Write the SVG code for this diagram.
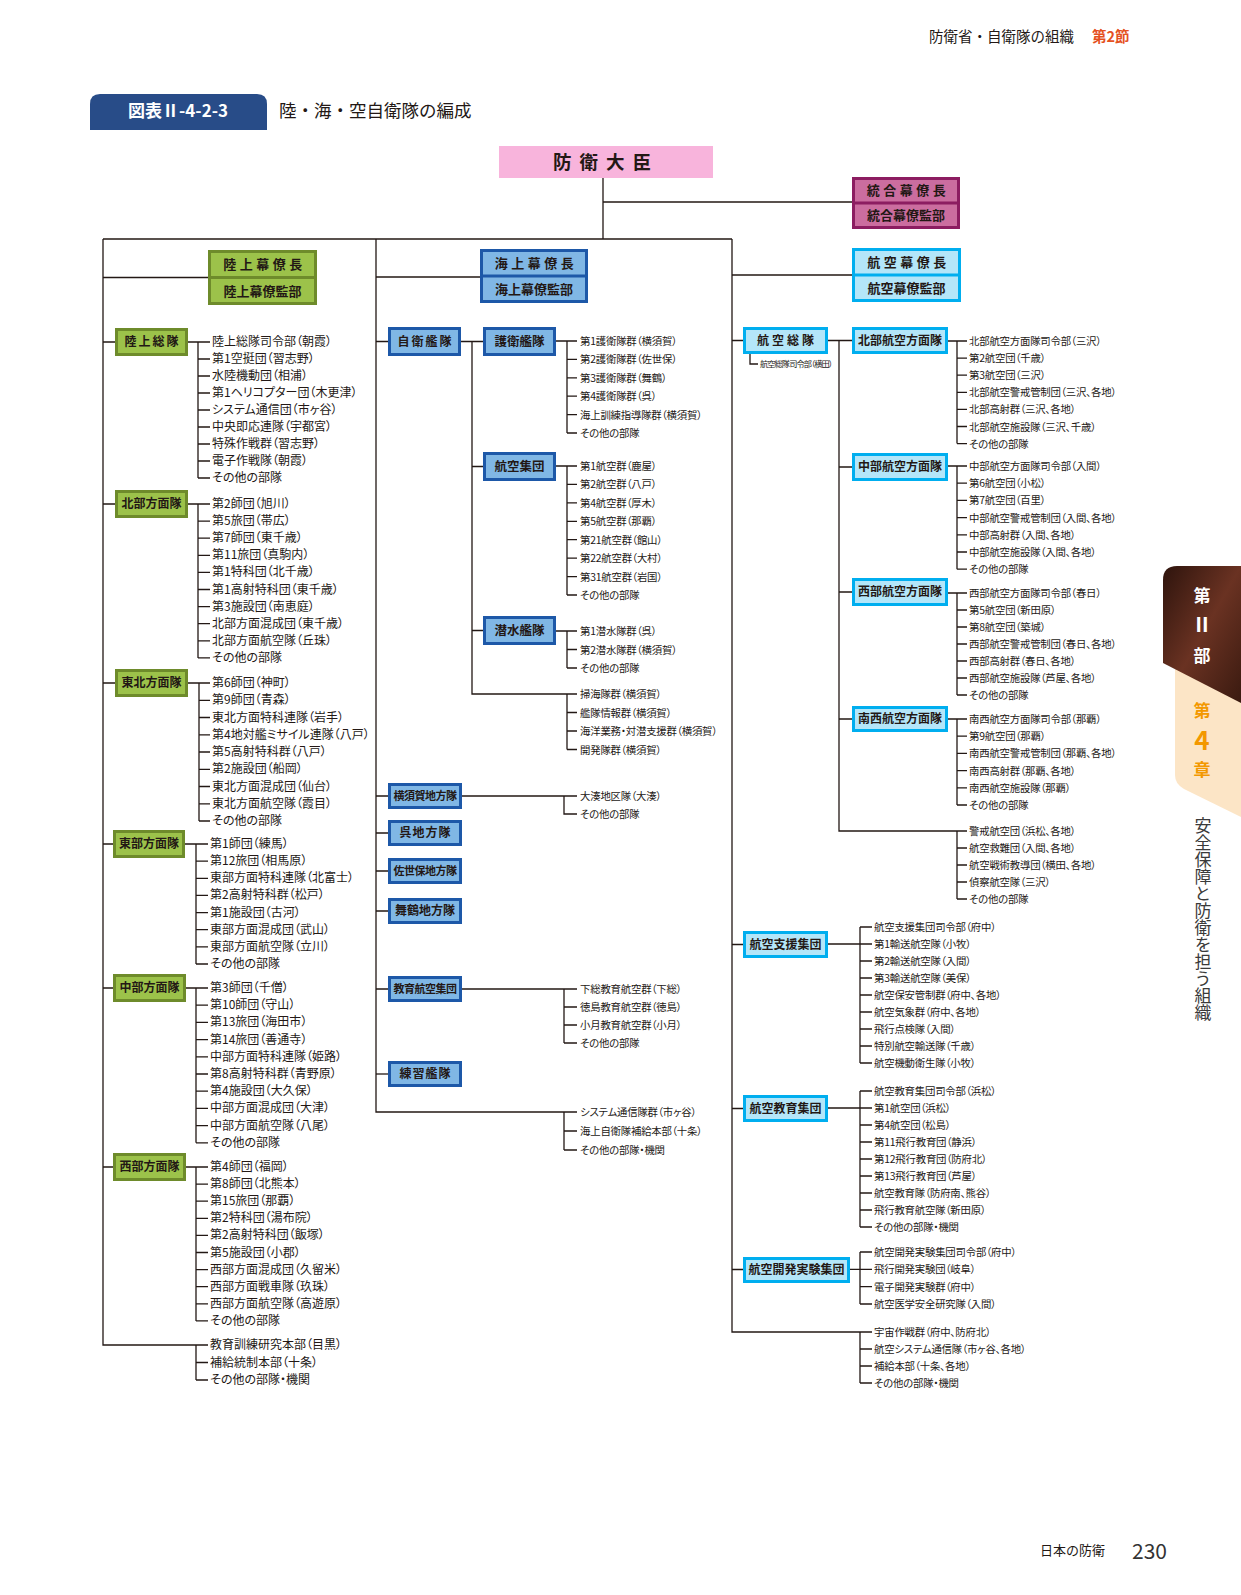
<svg xmlns="http://www.w3.org/2000/svg" width="1241" height="1595" viewBox="0 0 1241 1595">
<defs>
<style>
.ln{stroke:#231815;stroke-width:1.3;fill:none}
.f{font-family:"Noto Sans CJK JP","Noto Sans CJK SC",sans-serif;fill:#231815}
.tg{font-family:"Noto Sans CJK JP","Noto Sans CJK SC",sans-serif;fill:#231815;font-size:12px;letter-spacing:0px;font-feature-settings:"palt"}
.ts{font-family:"Noto Sans CJK JP","Noto Sans CJK SC",sans-serif;fill:#231815;font-size:10.4px;letter-spacing:-0.2px;font-feature-settings:"palt"}
.bt{font-family:"Noto Sans CJK JP","Noto Sans CJK SC",sans-serif;fill:#231815;font-size:12px;font-weight:bold;text-anchor:middle}
.b13{font-size:13px}
.b125{font-size:12.5px}
.bg{fill:#9CC24A;stroke:#6E8B2B;stroke-width:3}
.bm{fill:#80B7E5;stroke:#1D58A8;stroke-width:3}
.ba{fill:#B4E6F9;stroke:#00AEEF;stroke-width:3}
.bj{fill:#CB6D9F;stroke:#8C1D61;stroke-width:3}
.sp{letter-spacing:2px}
.s6{font-size:11px;letter-spacing:-0.5px}
.tiny{font-size:8.2px;letter-spacing:-0.9px}
</style>
<linearGradient id="dk" x1="0" y1="0" x2="1" y2="1">
<stop offset="0" stop-color="#2E140D"/>
<stop offset="0.5" stop-color="#6A3222"/>
<stop offset="1" stop-color="#3A1A10"/>
</linearGradient>
</defs>
<rect width="1241" height="1595" fill="#ffffff"/>

<g id="header">
<text class="f" x="929" y="42" font-size="14.5">防衛省・自衛隊の組織</text>
<text class="f" x="1092" y="42" font-size="14.5" font-weight="bold" style="fill:#E5511E">第2節</text>
</g>

<g id="title">
<path d="M90,130V104Q90,94 100,94H257Q267,94 267,104V130Z" fill="#284C88"/>
<text class="f" x="178" y="117" font-size="17" font-weight="bold" text-anchor="middle" style="fill:#ffffff">図表Ⅱ-4-2-3</text>
<text class="f" x="279" y="117" font-size="17.5">陸・海・空自衛隊の編成</text>
</g>

<g id="side-tab">
<path d="M1175,655V775Q1175,784 1184,789L1241,817V680Z" fill="#FCE5C6"/>
<path d="M1241,566H1177Q1163,566 1163,580V663L1241,703Z" fill="url(#dk)"/>
<text class="f" x="1202" y="602" font-size="17" font-weight="bold" text-anchor="middle" style="fill:#ffffff">第</text>
<text class="f" x="1202" y="632" font-size="20" font-weight="bold" text-anchor="middle" style="fill:#ffffff">Ⅱ</text>
<text class="f" x="1202" y="662" font-size="17" font-weight="bold" text-anchor="middle" style="fill:#ffffff">部</text>
<text class="f" x="1202" y="717" font-size="17" font-weight="bold" text-anchor="middle" style="fill:#F39800">第</text>
<text class="f" x="1202" y="750" font-size="26" font-weight="bold" text-anchor="middle" style="fill:#F39800">4</text>
<text class="f" x="1202" y="776" font-size="17" font-weight="bold" text-anchor="middle" style="fill:#F39800">章</text>
<text class="f" x="1203" y="817" font-size="17" style="writing-mode:vertical-rl;fill:#3a3a3a">安全保障と防衛を担う組織</text>
</g>

<g id="footer">
<text class="f" x="1040" y="1555" font-size="13">日本の防衛</text>
<text class="f" x="1132" y="1559" font-size="21" style="fill:#333">230</text>
</g>

<g id="connectors">
<path class="ln" d="M103,239V1345H208 M103,239H732 M603,178V239 M603,202H852 M103,277.5H208 M376,277H480 M732,275H852"/>
<path class="ln" d="M103,342H116 M187,342H210 M198,342V478 M198,359h12 M198,376h12 M198,393h12 M198,410h12 M198,427h12 M198,444h12 M198,461h12 M198,478h12"/>
<path class="ln" d="M103,504H116 M187,504H210 M198,504V657.9 M198,521.1h12 M198,538.2h12 M198,555.3h12 M198,572.4h12 M198,589.5h12 M198,606.6h12 M198,623.7h12 M198,640.8h12 M198,657.9h12"/>
<path class="ln" d="M103,683H116 M187,683H210 M199,683V821 M199,700.3h11 M199,717.5h11 M199,734.8h11 M199,752h11 M199,769.3h11 M199,786.5h11 M199,803.8h11 M199,821h11"/>
<path class="ln" d="M103,844H114 M184,844H208 M196,844V964 M196,861.1h12 M196,878.3h12 M196,895.4h12 M196,912.6h12 M196,929.7h12 M196,946.9h12 M196,964h12"/>
<path class="ln" d="M103,988H114 M185,988H208 M196,988V1142.8 M196,1005.2h12 M196,1022.4h12 M196,1039.6h12 M196,1056.8h12 M196,1074h12 M196,1091.2h12 M196,1108.4h12 M196,1125.6h12 M196,1142.8h12"/>
<path class="ln" d="M103,1167H114 M185,1167H208 M196,1167V1320.9 M196,1184.1h12 M196,1201.2h12 M196,1218.3h12 M196,1235.4h12 M196,1252.5h12 M196,1269.6h12 M196,1286.7h12 M196,1303.8h12 M196,1320.9h12"/>
<path class="ln" d="M196,1345V1380 M196,1362.5h12 M196,1380h12"/>
<path class="ln" d="M376,239V1112H577 M564,1112V1150 M564,1131h13 M564,1150h13"/>
<path class="ln" d="M376,341.5H389 M460,341.5H484 M472,341.5V694H577 M567,694V749.5 M567,712.5h10 M567,731h10 M567,749.5h10"/>
<path class="ln" d="M555,341H577 M567,341V433 M567,359.4h10 M567,377.8h10 M567,396.2h10 M567,414.6h10 M567,433h10"/>
<path class="ln" d="M472,466.5H484 M555,466H577 M567,466V595 M567,484.4h10 M567,502.9h10 M567,521.3h10 M567,539.7h10 M567,558.1h10 M567,576.6h10 M567,595h10"/>
<path class="ln" d="M472,630.5H484 M555,631H577 M567,631V668 M567,649.5h10 M567,668h10"/>
<path class="ln" d="M376,796H389 M461,796H577 M564,796V814H577"/>
<path class="ln" d="M376,833H389 M376,871H389 M376,911H389"/>
<path class="ln" d="M376,989H389 M461,989H577 M564,989V1043 M564,1007h13 M564,1025h13 M564,1043h13"/>
<path class="ln" d="M376,1074H389"/>
<path class="ln" d="M732,239V1332H872 M860,1332V1383 M860,1349h12 M860,1366h12 M860,1383h12"/>
<path class="ln" d="M732,340.5H744 M827,340.5H853 M839,340.5V831H967 M957,831V899 M957,848h10 M957,865h10 M957,882h10 M957,899h10"/>
<path class="ln" d="M750,354V364H758"/>
<path class="ln" d="M947,341H967 M957,341V443.6 M957,358.1h10 M957,375.2h10 M957,392.3h10 M957,409.4h10 M957,426.5h10 M957,443.6h10"/>
<path class="ln" d="M839,467H853 M947,466H967 M957,466V569.2 M957,483.2h10 M957,500.4h10 M957,517.6h10 M957,534.8h10 M957,552h10 M957,569.2h10"/>
<path class="ln" d="M839,592H853 M947,593H967 M957,593V695 M957,610h10 M957,627h10 M957,644h10 M957,661h10 M957,678h10 M957,695h10"/>
<path class="ln" d="M839,719H853 M947,719H967 M957,719V805 M957,736.2h10 M957,753.4h10 M957,770.6h10 M957,787.8h10 M957,805h10"/>
<path class="ln" d="M732,944.5H744 M827,944H872 M860,927V1063 M860,927h12 M860,961h12 M860,978h12 M860,995h12 M860,1012h12 M860,1029h12 M860,1046h12 M860,1063h12"/>
<path class="ln" d="M732,1108.5H744 M827,1108H872 M860,1091V1227 M860,1091h12 M860,1125h12 M860,1142h12 M860,1159h12 M860,1176h12 M860,1193h12 M860,1210h12 M860,1227h12"/>
<path class="ln" d="M732,1269.5H744 M849,1269.3H872 M860,1252V1304 M860,1252h12 M860,1286.7h12 M860,1304h12"/>
</g>

<g id="minister">
<rect x="499" y="146" width="214" height="32" fill="#F8B4DC"/>
<text class="f" x="606" y="169" font-size="18.5" font-weight="bold" text-anchor="middle" letter-spacing="8">防衛大臣</text>
</g>
<g id="joint-staff">
<rect class="bj" x="853.5" y="178.5" width="105" height="49"/>
<line x1="853.5" y1="203" x2="958.5" y2="203" stroke="#8C1D61" stroke-width="3"/>
<text class="bt b13" x="908" y="195" letter-spacing="3.5">統合幕僚長</text>
<text class="bt b13" x="906" y="220">統合幕僚監部</text>
</g>
<g id="gsdf-staff">
<rect class="bg" x="209.5" y="251.5" width="106" height="52"/>
<line x1="209.5" y1="277.5" x2="315.5" y2="277.5" stroke="#6E8B2B" stroke-width="3"/>
<text class="bt b13" x="264.5" y="269" letter-spacing="3.5">陸上幕僚長</text>
<text class="bt b13" x="262.5" y="295.5">陸上幕僚監部</text>
</g>
<g id="msdf-staff">
<rect class="bm" x="481.5" y="250.5" width="105" height="51"/>
<line x1="481.5" y1="276" x2="586.5" y2="276" stroke="#1D58A8" stroke-width="3"/>
<text class="bt b13" x="536" y="268" letter-spacing="3.5">海上幕僚長</text>
<text class="bt b13" x="534" y="294">海上幕僚監部</text>
</g>
<g id="asdf-staff">
<rect class="ba" x="853.5" y="249.5" width="106" height="51"/>
<line x1="853.5" y1="275" x2="959.5" y2="275" stroke="#00AEEF" stroke-width="3"/>
<text class="bt b13" x="908.5" y="267" letter-spacing="3.5">航空幕僚長</text>
<text class="bt b13" x="906.5" y="293">航空幕僚監部</text>
</g>

<g id="g-sotai">
<rect class="bg" x="116.5" y="329.5" width="70" height="25"/>
<text class="bt sp" x="152.5" y="346.3">陸上総隊</text>
</g>
<g id="g-sotai-units">
<text class="tg" x="212" y="346">陸上総隊司令部（朝霞）</text>
<text class="tg" x="212" y="363">第1空挺団（習志野）</text>
<text class="tg" x="212" y="380">水陸機動団（相浦）</text>
<text class="tg" x="212" y="397">第1ヘリコプター団（木更津）</text>
<text class="tg" x="212" y="414">システム通信団（市ヶ谷）</text>
<text class="tg" x="212" y="431">中央即応連隊（宇都宮）</text>
<text class="tg" x="212" y="448">特殊作戦群（習志野）</text>
<text class="tg" x="212" y="465">電子作戦隊（朝霞）</text>
<text class="tg" x="212" y="482">その他の部隊</text>
</g>
<g id="g-north">
<rect class="bg" x="116.5" y="491.5" width="70" height="25"/>
<text class="bt" x="151.5" y="508.3">北部方面隊</text>
</g>
<g id="g-north-units">
<text class="tg" x="212" y="508">第2師団（旭川）</text>
<text class="tg" x="212" y="525.1">第5旅団（帯広）</text>
<text class="tg" x="212" y="542.2">第7師団（東千歳）</text>
<text class="tg" x="212" y="559.3">第11旅団（真駒内）</text>
<text class="tg" x="212" y="576.4">第1特科団（北千歳）</text>
<text class="tg" x="212" y="593.5">第1高射特科団（東千歳）</text>
<text class="tg" x="212" y="610.6">第3施設団（南恵庭）</text>
<text class="tg" x="212" y="627.7">北部方面混成団（東千歳）</text>
<text class="tg" x="212" y="644.8">北部方面航空隊（丘珠）</text>
<text class="tg" x="212" y="661.9">その他の部隊</text>
</g>
<g id="g-northeast">
<rect class="bg" x="116.5" y="670.5" width="70" height="25"/>
<text class="bt" x="151.5" y="687.3">東北方面隊</text>
</g>
<g id="g-northeast-units">
<text class="tg" x="212" y="687">第6師団（神町）</text>
<text class="tg" x="212" y="704.3">第9師団（青森）</text>
<text class="tg" x="212" y="721.5">東北方面特科連隊（岩手）</text>
<text class="tg" x="212" y="738.8">第4地対艦ミサイル連隊（八戸）</text>
<text class="tg" x="212" y="756">第5高射特科群（八戸）</text>
<text class="tg" x="212" y="773.3">第2施設団（船岡）</text>
<text class="tg" x="212" y="790.5">東北方面混成団（仙台）</text>
<text class="tg" x="212" y="807.8">東北方面航空隊（霞目）</text>
<text class="tg" x="212" y="825">その他の部隊</text>
</g>
<g id="g-east">
<rect class="bg" x="114.5" y="831.5" width="69" height="25"/>
<text class="bt" x="149" y="848.3">東部方面隊</text>
</g>
<g id="g-east-units">
<text class="tg" x="210" y="848">第1師団（練馬）</text>
<text class="tg" x="210" y="865.1">第12旅団（相馬原）</text>
<text class="tg" x="210" y="882.3">東部方面特科連隊（北富士）</text>
<text class="tg" x="210" y="899.4">第2高射特科群（松戸）</text>
<text class="tg" x="210" y="916.6">第1施設団（古河）</text>
<text class="tg" x="210" y="933.7">東部方面混成団（武山）</text>
<text class="tg" x="210" y="950.9">東部方面航空隊（立川）</text>
<text class="tg" x="210" y="968">その他の部隊</text>
</g>
<g id="g-middle">
<rect class="bg" x="114.5" y="975.5" width="70" height="25"/>
<text class="bt" x="149.5" y="992.3">中部方面隊</text>
</g>
<g id="g-middle-units">
<text class="tg" x="210" y="992">第3師団（千僧）</text>
<text class="tg" x="210" y="1009.2">第10師団（守山）</text>
<text class="tg" x="210" y="1026.4">第13旅団（海田市）</text>
<text class="tg" x="210" y="1043.6">第14旅団（善通寺）</text>
<text class="tg" x="210" y="1060.8">中部方面特科連隊（姫路）</text>
<text class="tg" x="210" y="1078">第8高射特科群（青野原）</text>
<text class="tg" x="210" y="1095.2">第4施設団（大久保）</text>
<text class="tg" x="210" y="1112.4">中部方面混成団（大津）</text>
<text class="tg" x="210" y="1129.6">中部方面航空隊（八尾）</text>
<text class="tg" x="210" y="1146.8">その他の部隊</text>
</g>
<g id="g-west">
<rect class="bg" x="114.5" y="1154.5" width="70" height="25"/>
<text class="bt" x="149.5" y="1171.3">西部方面隊</text>
</g>
<g id="g-west-units">
<text class="tg" x="210" y="1171">第4師団（福岡）</text>
<text class="tg" x="210" y="1188.1">第8師団（北熊本）</text>
<text class="tg" x="210" y="1205.2">第15旅団（那覇）</text>
<text class="tg" x="210" y="1222.3">第2特科団（湯布院）</text>
<text class="tg" x="210" y="1239.4">第2高射特科団（飯塚）</text>
<text class="tg" x="210" y="1256.5">第5施設団（小郡）</text>
<text class="tg" x="210" y="1273.6">西部方面混成団（久留米）</text>
<text class="tg" x="210" y="1290.7">西部方面戦車隊（玖珠）</text>
<text class="tg" x="210" y="1307.8">西部方面航空隊（高遊原）</text>
<text class="tg" x="210" y="1324.9">その他の部隊</text>
</g>
<g id="g-other-units">
<text class="tg" x="210" y="1349">教育訓練研究本部（目黒）</text>
<text class="tg" x="210" y="1366.5">補給統制本部（十条）</text>
<text class="tg" x="210" y="1384">その他の部隊・機関</text>
</g>

<g id="m-fleet">
<rect class="bm" x="389.5" y="328.5" width="70" height="26"/>
<text class="bt sp" x="425.5" y="345.8">自衛艦隊</text>
</g>
<g id="m-escort">
<rect class="bm" x="484.5" y="328.5" width="70" height="26"/>
<text class="bt b125" x="519.5" y="345.8">護衛艦隊</text>
</g>
<g id="m-escort-units">
<text class="ts" x="580" y="345">第1護衛隊群（横須賀）</text>
<text class="ts" x="580" y="363.4">第2護衛隊群（佐世保）</text>
<text class="ts" x="580" y="381.8">第3護衛隊群（舞鶴）</text>
<text class="ts" x="580" y="400.2">第4護衛隊群（呉）</text>
<text class="ts" x="580" y="418.6">海上訓練指導隊群（横須賀）</text>
<text class="ts" x="580" y="437">その他の部隊</text>
</g>
<g id="m-air">
<rect class="bm" x="484.5" y="453.5" width="70" height="26"/>
<text class="bt b125" x="519.5" y="470.8">航空集団</text>
</g>
<g id="m-air-units">
<text class="ts" x="580" y="470">第1航空群（鹿屋）</text>
<text class="ts" x="580" y="488.4">第2航空群（八戸）</text>
<text class="ts" x="580" y="506.9">第4航空群（厚木）</text>
<text class="ts" x="580" y="525.3">第5航空群（那覇）</text>
<text class="ts" x="580" y="543.7">第21航空群（館山）</text>
<text class="ts" x="580" y="562.1">第22航空群（大村）</text>
<text class="ts" x="580" y="580.6">第31航空群（岩国）</text>
<text class="ts" x="580" y="599">その他の部隊</text>
</g>
<g id="m-sub">
<rect class="bm" x="484.5" y="617.5" width="70" height="26"/>
<text class="bt b125" x="519.5" y="634.8">潜水艦隊</text>
</g>
<g id="m-sub-units">
<text class="ts" x="580" y="635">第1潜水隊群（呉）</text>
<text class="ts" x="580" y="653.5">第2潜水隊群（横須賀）</text>
<text class="ts" x="580" y="672">その他の部隊</text>
</g>
<g id="m-fleet-units">
<text class="ts" x="580" y="698">掃海隊群（横須賀）</text>
<text class="ts" x="580" y="716.5">艦隊情報群（横須賀）</text>
<text class="ts" x="580" y="735">海洋業務・対潜支援群（横須賀）</text>
<text class="ts" x="580" y="753.5">開発隊群（横須賀）</text>
</g>
<g id="m-yokosuka">
<rect class="bm" x="389.5" y="784.5" width="71" height="23"/>
<text class="bt s6" x="425" y="800.2">横須賀地方隊</text>
</g>
<g id="m-yokosuka-units">
<text class="ts" x="580" y="800">大湊地区隊（大湊）</text>
<text class="ts" x="580" y="818">その他の部隊</text>
</g>
<g id="m-kure">
<rect class="bm" x="389.5" y="821.5" width="71" height="23"/>
<text class="bt" x="425.5" y="837.2" letter-spacing="1">呉地方隊</text>
</g>
<g id="m-sasebo">
<rect class="bm" x="389.5" y="859.5" width="71" height="23"/>
<text class="bt s6" x="425" y="875.2">佐世保地方隊</text>
</g>
<g id="m-maizuru">
<rect class="bm" x="389.5" y="899.5" width="71" height="23"/>
<text class="bt" x="425" y="915.2">舞鶴地方隊</text>
</g>
<g id="m-edu">
<rect class="bm" x="389.5" y="977.5" width="71" height="23"/>
<text class="bt s6" x="425" y="993.2">教育航空集団</text>
</g>
<g id="m-edu-units">
<text class="ts" x="580" y="993">下総教育航空群（下総）</text>
<text class="ts" x="580" y="1011">徳島教育航空群（徳島）</text>
<text class="ts" x="580" y="1029">小月教育航空群（小月）</text>
<text class="ts" x="580" y="1047">その他の部隊</text>
</g>
<g id="m-training">
<rect class="bm" x="389.5" y="1062.5" width="71" height="23"/>
<text class="bt" x="425.5" y="1078.2" letter-spacing="1">練習艦隊</text>
</g>
<g id="m-other-units">
<text class="ts" x="580" y="1116">システム通信隊群（市ヶ谷）</text>
<text class="ts" x="580" y="1135">海上自衛隊補給本部（十条）</text>
<text class="ts" x="580" y="1154">その他の部隊・機関</text>
</g>

<g id="a-sotai">
<rect class="ba" x="744.5" y="328.5" width="82" height="24"/>
<text class="bt" x="787" y="344.8" letter-spacing="3">航空総隊</text>
<text class="ts tiny" x="760" y="367">航空総隊司令部（横田）</text>
</g>
<g id="a-north">
<rect class="ba" x="853.5" y="328.5" width="93" height="24"/>
<text class="bt" x="900" y="344.8">北部航空方面隊</text>
</g>
<g id="a-north-units">
<text class="ts" x="969" y="345">北部航空方面隊司令部（三沢）</text>
<text class="ts" x="969" y="362.1">第2航空団（千歳）</text>
<text class="ts" x="969" y="379.2">第3航空団（三沢）</text>
<text class="ts" x="969" y="396.3">北部航空警戒管制団（三沢、各地）</text>
<text class="ts" x="969" y="413.4">北部高射群（三沢、各地）</text>
<text class="ts" x="969" y="430.5">北部航空施設隊（三沢、千歳）</text>
<text class="ts" x="969" y="447.6">その他の部隊</text>
</g>
<g id="a-central">
<rect class="ba" x="853.5" y="454.5" width="93" height="25"/>
<text class="bt" x="900" y="471.3">中部航空方面隊</text>
</g>
<g id="a-central-units">
<text class="ts" x="969" y="470">中部航空方面隊司令部（入間）</text>
<text class="ts" x="969" y="487.2">第6航空団（小松）</text>
<text class="ts" x="969" y="504.4">第7航空団（百里）</text>
<text class="ts" x="969" y="521.6">中部航空警戒管制団（入間、各地）</text>
<text class="ts" x="969" y="538.8">中部高射群（入間、各地）</text>
<text class="ts" x="969" y="556">中部航空施設隊（入間、各地）</text>
<text class="ts" x="969" y="573.2">その他の部隊</text>
</g>
<g id="a-west">
<rect class="ba" x="853.5" y="579.5" width="93" height="25"/>
<text class="bt" x="900" y="596.3">西部航空方面隊</text>
</g>
<g id="a-west-units">
<text class="ts" x="969" y="597">西部航空方面隊司令部（春日）</text>
<text class="ts" x="969" y="614">第5航空団（新田原）</text>
<text class="ts" x="969" y="631">第8航空団（築城）</text>
<text class="ts" x="969" y="648">西部航空警戒管制団（春日、各地）</text>
<text class="ts" x="969" y="665">西部高射群（春日、各地）</text>
<text class="ts" x="969" y="682">西部航空施設隊（芦屋、各地）</text>
<text class="ts" x="969" y="699">その他の部隊</text>
</g>
<g id="a-southwest">
<rect class="ba" x="853.5" y="707.5" width="93" height="23"/>
<text class="bt" x="900" y="723.3">南西航空方面隊</text>
</g>
<g id="a-southwest-units">
<text class="ts" x="969" y="723">南西航空方面隊司令部（那覇）</text>
<text class="ts" x="969" y="740.2">第9航空団（那覇）</text>
<text class="ts" x="969" y="757.4">南西航空警戒管制団（那覇、各地）</text>
<text class="ts" x="969" y="774.6">南西高射群（那覇、各地）</text>
<text class="ts" x="969" y="791.8">南西航空施設隊（那覇）</text>
<text class="ts" x="969" y="809">その他の部隊</text>
</g>
<g id="a-sotai-units">
<text class="ts" x="969" y="835">警戒航空団（浜松、各地）</text>
<text class="ts" x="969" y="852">航空救難団（入間、各地）</text>
<text class="ts" x="969" y="869">航空戦術教導団（横田、各地）</text>
<text class="ts" x="969" y="886">偵察航空隊（三沢）</text>
<text class="ts" x="969" y="903">その他の部隊</text>
</g>
<g id="a-support">
<rect class="ba" x="744.5" y="932.5" width="82" height="24"/>
<text class="bt" x="785.5" y="948.8">航空支援集団</text>
</g>
<g id="a-support-units">
<text class="ts" x="874" y="931">航空支援集団司令部（府中）</text>
<text class="ts" x="874" y="948">第1輸送航空隊（小牧）</text>
<text class="ts" x="874" y="965">第2輸送航空隊（入間）</text>
<text class="ts" x="874" y="982">第3輸送航空隊（美保）</text>
<text class="ts" x="874" y="999">航空保安管制群（府中、各地）</text>
<text class="ts" x="874" y="1016">航空気象群（府中、各地）</text>
<text class="ts" x="874" y="1033">飛行点検隊（入間）</text>
<text class="ts" x="874" y="1050">特別航空輸送隊（千歳）</text>
<text class="ts" x="874" y="1067">航空機動衛生隊（小牧）</text>
</g>
<g id="a-edu">
<rect class="ba" x="744.5" y="1096.5" width="82" height="24"/>
<text class="bt" x="785.5" y="1112.8">航空教育集団</text>
</g>
<g id="a-edu-units">
<text class="ts" x="874" y="1095">航空教育集団司令部（浜松）</text>
<text class="ts" x="874" y="1112">第1航空団（浜松）</text>
<text class="ts" x="874" y="1129">第4航空団（松島）</text>
<text class="ts" x="874" y="1146">第11飛行教育団（静浜）</text>
<text class="ts" x="874" y="1163">第12飛行教育団（防府北）</text>
<text class="ts" x="874" y="1180">第13飛行教育団（芦屋）</text>
<text class="ts" x="874" y="1197">航空教育隊（防府南、熊谷）</text>
<text class="ts" x="874" y="1214">飛行教育航空隊（新田原）</text>
<text class="ts" x="874" y="1231">その他の部隊・機関</text>
</g>
<g id="a-dev">
<rect class="ba" x="744.5" y="1258.5" width="104" height="23"/>
<text class="bt" x="796.5" y="1274.3">航空開発実験集団</text>
</g>
<g id="a-dev-units">
<text class="ts" x="874" y="1256">航空開発実験集団司令部（府中）</text>
<text class="ts" x="874" y="1273.3">飛行開発実験団（岐阜）</text>
<text class="ts" x="874" y="1290.7">電子開発実験群（府中）</text>
<text class="ts" x="874" y="1308">航空医学安全研究隊（入間）</text>
</g>
<g id="a-other-units">
<text class="ts" x="874" y="1336">宇宙作戦群（府中、防府北）</text>
<text class="ts" x="874" y="1353">航空システム通信隊（市ヶ谷、各地）</text>
<text class="ts" x="874" y="1370">補給本部（十条、各地）</text>
<text class="ts" x="874" y="1387">その他の部隊・機関</text>
</g>
</svg>
